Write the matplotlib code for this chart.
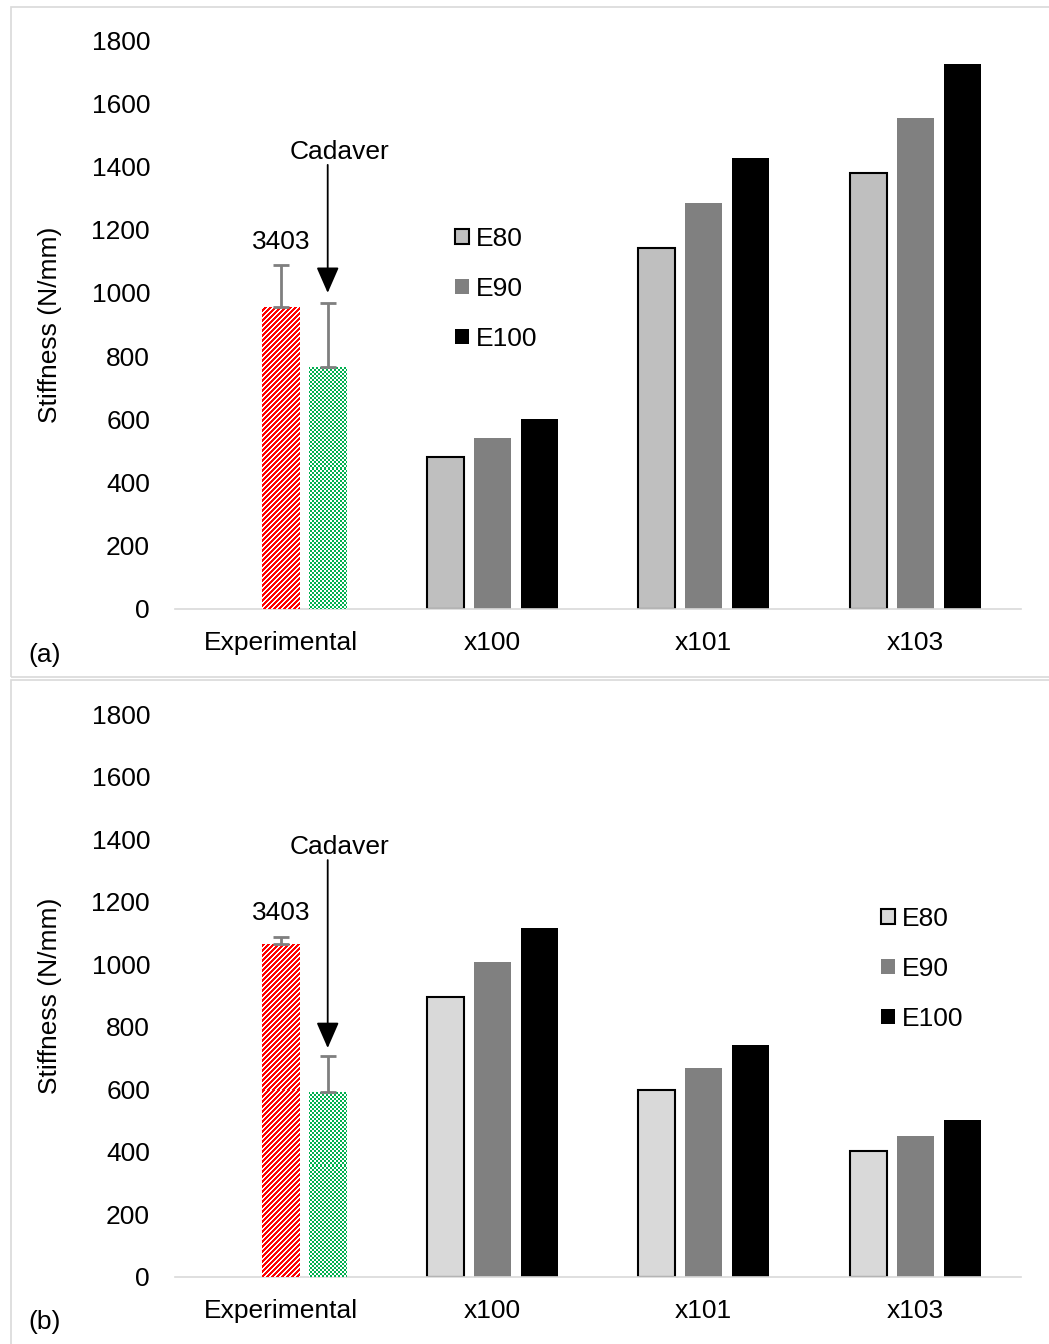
import numpy as np
import matplotlib
matplotlib.use("Agg")
import matplotlib.pyplot as plt
from matplotlib.patches import Patch, Rectangle

plt.rcParams['font.family'] = ['Liberation Sans', 'DejaVu Sans']

# ---- data ----
categories = ["Experimental", "x100", "x101", "x103"]
series = ["E80", "E90", "E100"]
models = ["x100", "x101", "x103"]

# panel (a)
exp_a_mean = [955, 766]        # 3403, Cadaver
exp_a_err = [134, 202]
e80_a = [481, 1142, 1380]
e90_a = [541, 1285, 1554]
e100_a = [601, 1427, 1725]

# panel (b)
exp_b_mean = [1065, 592]
exp_b_err = [22, 115]
e80_b = [895, 598, 403]
e90_b = [1007, 668, 451]
e100_b = [1116, 742, 502]

yticks = [0, 200, 400, 600, 800, 1000, 1200, 1400, 1600, 1800]

W, H = 1049, 1344
DPI = 100
fig = plt.figure(figsize=(W / DPI, H / DPI), dpi=DPI)

FS = 19
GRID_GRAY = "#D9D9D9"
BAR_W = 0.175
STEP = 0.222


def fig_rect(x0, y_top, x1, y_bot):
    return [x0 / W, 1 - y_bot / H, (x1 - x0) / W, (y_bot - y_top) / H]


def pattern(kind, w, h):
    img = np.ones((h, w, 3))
    ii, jj = np.mgrid[0:h, 0:w]
    if kind == "stripes":
        p = 5
        mask = ((jj + ii) % p) < 3
        img[mask] = (1.0, 0.0, 0.0)
    else:
        mask = ((jj // 2 + ii // 2) % 2) == 0
        img[mask] = (0.0, 0.69, 0.31)
    return img


def draw_panel(rect, exp_mean, exp_err, e80, e90, e100, e80_color,
               legend_anchor, panel_tag, tag_y, label_y, cad_y, arrow_top, arrow_tip):
    ax = fig.add_axes(rect)
    ax.set_xlim(-0.5, 3.5)
    ax.set_ylim(0, 1800)
    ax_w_px = rect[2] * W
    ax_h_px = rect[3] * H
    px_x = ax_w_px / 4.0
    px_y = ax_h_px / 1800.0

    # experimental bars with patterned fills
    xs_exp = [0.0, STEP]
    kinds = ["stripes", "checker"]
    for x, m, e, kind in zip(xs_exp, exp_mean, exp_err, kinds):
        bar = ax.bar(x, m, width=BAR_W, color="white", edgecolor="none", zorder=2)[0]
        wp = int(np.ceil(BAR_W * px_x)) + 2
        hp = int(np.ceil(m * px_y)) + 2
        half_w = wp / px_x / 2
        im = ax.imshow(pattern(kind, wp, hp), extent=(x - half_w, x + half_w, 0, hp / px_y),
                       aspect="auto", interpolation="nearest", zorder=3)
        im.set_clip_path(bar)
        ax.errorbar(x, m, yerr=[[0], [e]], fmt="none", ecolor="#7F7F7F",
                    elinewidth=2, capsize=6, capthick=2, zorder=4)

    # model bars
    xm = np.arange(1, 4)
    ax.bar(xm - STEP, e80, width=BAR_W, color=e80_color, edgecolor="black",
           linewidth=1.5, zorder=2, label="E80")
    ax.bar(xm, e90, width=BAR_W, color="#808080", edgecolor="none", zorder=2, label="E90")
    ax.bar(xm + STEP, e100, width=BAR_W, color="black", edgecolor="none", zorder=2, label="E100")

    ax.set_xlim(-0.5, 3.5)
    ax.set_ylim(0, 1800)

    for s in ["top", "right", "left"]:
        ax.spines[s].set_visible(False)
    ax.spines["bottom"].set_color(GRID_GRAY)
    ax.spines["bottom"].set_linewidth(1.2)

    ax.set_xticks(range(4))
    ax.set_xticklabels(categories, fontsize=FS)
    ax.set_yticks(yticks)
    ax.set_yticklabels([str(v) for v in yticks], fontsize=FS)
    ax.tick_params(axis="both", length=0)
    ax.tick_params(axis="y", pad=18)
    ax.tick_params(axis="x", pad=16)

    ax.set_ylabel("Stiffness (N/mm)", fontsize=FS)
    ax.yaxis.set_label_coords((62 - 175) / ax_w_px, 0.5)

    ax.text(0.0, label_y, "3403", ha="center", va="center", fontsize=FS)
    ax.text(0.28, cad_y, "Cadaver", ha="center", va="center", fontsize=FS)
    ax.annotate("", xy=(STEP, arrow_tip), xytext=(STEP, arrow_top),
                arrowprops=dict(arrowstyle="-|>,head_length=0.8,head_width=0.35",
                                color="black", lw=1.3, mutation_scale=20,
                                shrinkA=0, shrinkB=0))

    handles = [Patch(facecolor=e80_color, edgecolor="black", linewidth=1.5),
               Patch(facecolor="#808080", edgecolor="none"),
               Patch(facecolor="black", edgecolor="none")]
    ax.legend(handles, series, loc="upper left",
              bbox_to_anchor=(legend_anchor[0] / W, 1 - legend_anchor[1] / H),
              bbox_transform=fig.transFigure, frameon=False, fontsize=FS,
              handlelength=0.53, handleheight=0.53, handletextpad=0.25,
              labelspacing=0.98, borderpad=0, borderaxespad=0)

    fig.text(45 / W, 1 - tag_y / H, panel_tag, ha="center", va="center", fontsize=FS)
    return ax


# panel frames
fig.patches.append(Rectangle((11 / W, 1 - 677 / H), 1.2, (677 - 7) / H,
                             transform=fig.transFigure, fill=False,
                             edgecolor=GRID_GRAY, linewidth=1.2))
fig.patches.append(Rectangle((11 / W, -0.2), 1.2, 0.2 + (1344 - 680) / H,
                             transform=fig.transFigure, fill=False,
                             edgecolor=GRID_GRAY, linewidth=1.2))

draw_panel(fig_rect(175, 40, 1021, 609), exp_a_mean, exp_a_err, e80_a, e90_a, e100_a,
           "#BFBFBF", (455, 227), "(a)", 655, 1161, 1446, 1405, 1000)
draw_panel(fig_rect(175, 714, 1021, 1277), exp_b_mean, exp_b_err, e80_b, e90_b, e100_b,
           "#D9D9D9", (881, 907), "(b)", 1322, 1164, 1375, 1333, 732)

fig.savefig("out.png", dpi=DPI)
